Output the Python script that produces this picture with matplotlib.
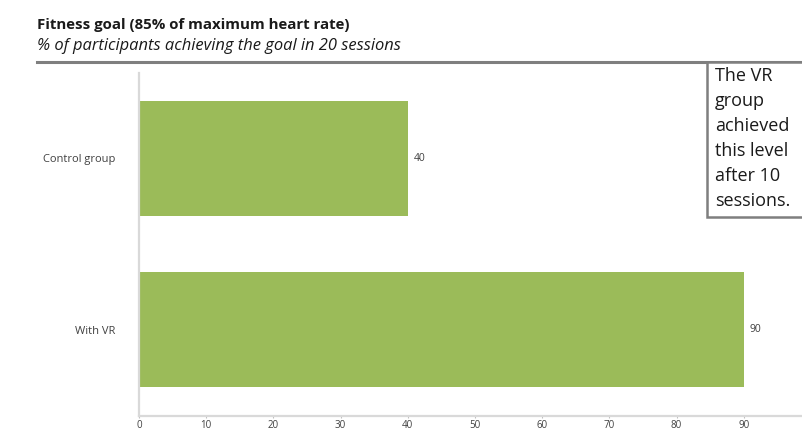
import matplotlib
matplotlib.use("Agg")
import matplotlib.pyplot as plt
from matplotlib.lines import Line2D
from matplotlib.patches import Rectangle

# Data
categories = ["With VR", "Control group"]
values = [90, 40]
x_ticks = [0, 10, 20, 30, 40, 50, 60, 70, 80, 90]

title = "Fitness goal (85% of maximum heart rate)"
subtitle = "% of participants achieving the goal in 20 sessions"
note = "The VR\ngroup\nachieved\nthis level\nafter 10\nsessions."

BAR = "#9bbb59"
AXIS = "#d9d9d9"
TXT = "#404040"

plt.rcParams["font.family"] = ["Open Sans", "DejaVu Sans"]

W, H = 803, 434
fig = plt.figure(figsize=(W / 100, H / 100), dpi=100)

# Plot area in pixel coordinates
x0, x1 = 139, 139 + 672   # 0..100
y_top, y_bot = 72.5, 415.5
ax = fig.add_axes([x0 / W, 1 - y_bot / H, (x1 - x0) / W, (y_bot - y_top) / H])

ypos = list(range(len(categories)))
ax.barh(ypos, values, height=0.67, color=BAR, edgecolor="none", zorder=2)
ax.set_xlim(0, 100)
ax.set_ylim(-0.5, len(categories) - 0.5)

for y, v in zip(ypos, values):
    ax.annotate(f"{v}", (v, y), xytext=(4, 0), textcoords="offset points",
                ha="left", va="center", fontsize=7.5, color=TXT)

ax.set_yticks(ypos)
ax.set_yticklabels(categories, fontsize=8, color=TXT)
ax.set_xticks(x_ticks)
ax.set_xticklabels([str(t) for t in x_ticks], fontsize=7, color=TXT)
ax.tick_params(axis="y", length=0, pad=17)
ax.tick_params(axis="x", length=1.5, width=0.8, color="#bfbfbf", pad=1.5)

for s in ["top", "right"]:
    ax.spines[s].set_visible(False)
for s in ["left", "bottom"]:
    ax.spines[s].set_color(AXIS)
    ax.spines[s].set_linewidth(1.6)

# Header
fig.text(37 / W, 1 - 25 / H, title, fontsize=10.8, fontweight="bold",
         color="#1a1a1a", ha="left", va="center")
fig.text(37 / W, 1 - 46 / H, subtitle, fontsize=11.9, style="italic",
         color="#1a1a1a", ha="left", va="center")
fig.add_artist(Line2D([37 / W, 1.0], [1 - 62 / H, 1 - 62 / H],
                      transform=fig.transFigure, color="#7f7f7f", lw=2.2))

# Call-out box
bx0, by0, by1 = 707, 62, 217
fig.add_artist(Rectangle((bx0 / W, 1 - by1 / H), (W + 10 - bx0) / W, (by1 - by0) / H,
                         transform=fig.transFigure, facecolor="white",
                         edgecolor="#7f7f7f", lw=1.8, zorder=5))
fig.text(715 / W, 1 - 67 / H, note, fontsize=13, color="#1a1a1a",
         ha="left", va="top", linespacing=1.5, zorder=6)

fig.savefig("out.png", dpi=100)
